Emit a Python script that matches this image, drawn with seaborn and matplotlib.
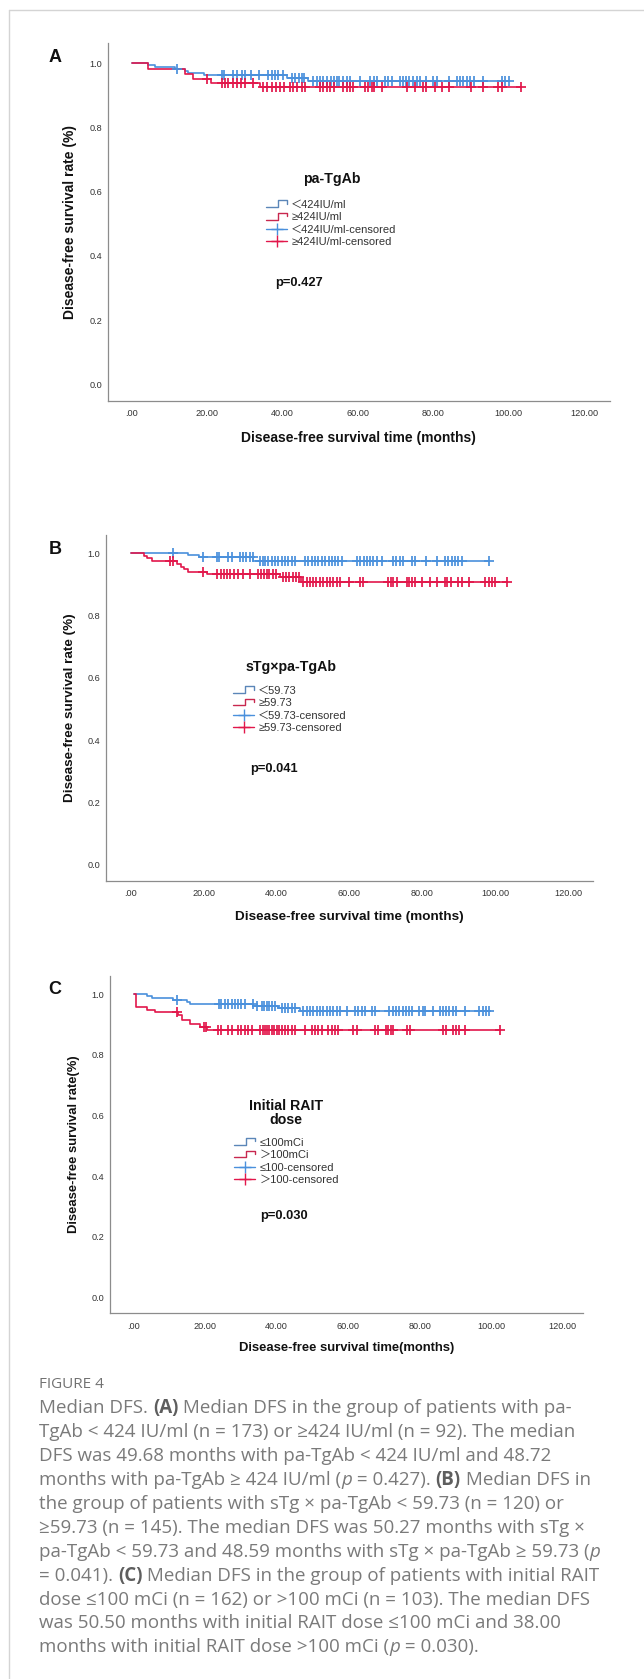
import numpy as np
import matplotlib
matplotlib.use("Agg")
import matplotlib.pyplot as plt
import seaborn as sns
from matplotlib.lines import Line2D
from matplotlib.legend_handler import HandlerBase

# ---- data (months / survival proportion) ----
a_blue_times = [4.3, 6.1, 11.4, 14.1, 14.9, 19.1, 41.1, 46.8]
a_blue_surv = [0.994, 0.988, 0.982, 0.976, 0.970, 0.964, 0.953, 0.944]
a_blue_cens = [12.0, 23.8, 24.4, 26.9, 27.8, 29.1, 30.0, 31.5, 33.8, 36.2, 37.1, 38.0, 38.8, 40.0,
               42.4, 43.3, 44.4, 45.0, 45.7, 48.1, 49.0, 49.9, 50.8, 51.7, 52.7, 53.5, 54.3, 55.0,
               56.1, 57.0, 57.9, 60.4, 63.2, 64.3, 65.1, 67.3, 68.0, 68.9, 71.1, 72.0, 72.7, 73.6,
               74.5, 75.6, 76.5, 78.1, 80.0, 81.1, 84.2, 86.2, 87.1, 88.0, 88.9, 89.8, 90.8, 93.1,
               98.2, 99.0, 100.0]
a_red_times = [4.3, 14.1, 16.1, 21.1, 33.9]
a_red_surv = [0.981, 0.966, 0.950, 0.940, 0.925]
a_red_cens = [19.8, 24.0, 24.7, 25.6, 26.7, 27.8, 29.0, 30.0, 32.0, 34.9, 35.9, 37.1, 38.2, 39.3,
              40.3, 41.9, 42.8, 43.9, 45.0, 45.9, 49.9, 50.8, 51.7, 52.6, 53.5, 56.1, 57.0, 57.9,
              58.6, 61.9, 62.7, 63.6, 64.2, 66.3, 72.9, 75.1, 77.3, 78.0, 80.4, 82.2, 84.2, 90.1,
              93.1, 97.2, 98.1, 103.2]

b_blue_times = [15.8, 18.9, 33.7]
b_blue_surv = [0.995, 0.987, 0.976]
b_blue_cens = [11.7, 19.8, 23.8, 24.3, 26.8, 27.7, 30.0, 30.7, 31.7, 32.8, 33.5, 35.5, 36.2, 36.9,
               37.8, 38.7, 39.6, 40.5, 41.4, 42.3, 43.3, 44.2, 45.1, 47.9, 48.8, 49.7, 50.6, 51.5,
               52.4, 53.3, 54.3, 55.2, 56.1, 57.0, 57.9, 62.0, 63.0, 63.9, 64.8, 65.7, 66.6, 67.5,
               69.1, 71.9, 72.8, 73.9, 74.8, 77.1, 78.0, 81.0, 84.0, 86.3, 87.2, 88.1, 89.0, 89.9,
               90.8, 98.2]
b_red_times = [3.8, 4.6, 5.8, 12.6, 13.7, 14.6, 15.8, 20.9, 41.0, 46.7]
b_red_surv = [0.992, 0.984, 0.975, 0.966, 0.957, 0.949, 0.940, 0.935, 0.925, 0.909]
b_red_cens = [10.8, 11.5, 19.8, 23.8, 24.7, 25.6, 26.5, 27.4, 28.4, 29.6, 30.7, 32.8, 35.0, 35.7,
              36.6, 37.3, 38.0, 39.0, 39.8, 41.7, 42.6, 43.5, 44.5, 45.4, 46.3, 47.4, 48.3, 49.2,
              50.1, 51.0, 51.9, 52.9, 53.8, 54.7, 55.6, 56.5, 57.4, 60.0, 62.9, 63.8, 70.7, 71.4,
              72.1, 73.2, 75.9, 76.5, 77.1, 78.0, 79.9, 82.2, 84.0, 86.3, 86.9, 87.8, 89.9, 90.8,
              92.9, 97.2, 98.2, 99.1, 100.0, 103.2]

c_blue_times = [3.7, 5.1, 11.1, 15.0, 15.8, 33.5, 40.5, 46.6]
c_blue_surv = [0.993, 0.987, 0.982, 0.976, 0.969, 0.963, 0.954, 0.945]
c_blue_cens = [12.1, 24.0, 24.6, 25.6, 26.5, 27.5, 28.4, 29.3, 30.2, 31.2, 33.3, 34.4, 35.8, 36.5,
               37.2, 38.0, 38.6, 39.6, 41.4, 42.4, 43.3, 44.2, 45.2, 47.5, 48.4, 49.4, 50.3, 51.2,
               52.2, 53.1, 54.0, 55.0, 55.9, 56.8, 57.7, 59.6, 61.9, 62.9, 63.8, 64.8, 66.6, 67.5,
               71.5, 72.5, 73.4, 74.3, 75.3, 76.2, 77.1, 77.8, 79.9, 80.9, 81.5, 83.7, 85.7, 86.5,
               87.4, 88.3, 89.3, 90.2, 92.7, 96.7, 97.6, 98.6, 99.5]
c_red_times = [0.8, 3.9, 6.0, 12.5, 13.5, 15.8, 18.6, 20.6]
c_red_surv = [0.958, 0.949, 0.941, 0.932, 0.916, 0.903, 0.892, 0.881]
c_red_cens = [12.1, 19.7, 20.3, 23.7, 24.6, 26.5, 27.5, 29.3, 30.2, 31.2, 32.1, 33.0, 35.4, 36.1,
              36.8, 37.4, 38.0, 38.6, 39.3, 40.0, 40.8, 41.4, 42.4, 43.3, 44.2, 45.2, 47.9, 49.8,
              50.7, 51.7, 52.6, 54.5, 55.4, 56.3, 57.2, 61.3, 62.6, 67.5, 68.5, 70.6, 71.3, 71.9,
              72.7, 76.4, 77.3, 86.5, 87.4, 89.4, 90.2, 90.9, 92.7, 102.5]

a_labels = ["\uff1c424IU/ml", "\u2265424IU/ml", "\uff1c424IU/ml-censored", "\u2265424IU/ml-censored"]
b_labels = ["\uff1c59.73", "\u226559.73", "\uff1c59.73-censored", "\u226559.73-censored"]
c_labels = ["\u2264100mCi", "\uff1e100mCi", "\u2264100-censored", "\uff1e100-censored"]

x_ticks = [0, 20, 40, 60, 80, 100, 120]
x_ticklabels = [".00", "20.00", "40.00", "60.00", "80.00", "100.00", "120.00"]
y_ticks = [0.0, 0.2, 0.4, 0.6, 0.8, 1.0]

caption_lines = [
    [("Median DFS. ", "n"), ("(A)", "b"), (" Median DFS in the group of patients with pa-", "n")],
    [("TgAb < 424 IU/ml (n = 173) or \u2265424 IU/ml (n = 92). The median", "n")],
    [("DFS was 49.68 months with pa-TgAb < 424 IU/ml and 48.72", "n")],
    [("months with pa-TgAb \u2265 424 IU/ml (", "n"), ("p", "i"), (" = 0.427). ", "n"), ("(B)", "b"),
     (" Median DFS in", "n")],
    [("the group of patients with sTg \u00d7 pa-TgAb < 59.73 (n = 120) or", "n")],
    [("\u226559.73 (n = 145). The median DFS was 50.27 months with sTg \u00d7", "n")],
    [("pa-TgAb < 59.73 and 48.59 months with sTg \u00d7 pa-TgAb \u2265 59.73 (", "n"), ("p", "i")],
    [("= 0.041). ", "n"), ("(C)", "b"), (" Median DFS in the group of patients with initial RAIT", "n")],
    [("dose \u2264100 mCi (n = 162) or >100 mCi (n = 103). The median DFS", "n")],
    [("was 50.50 months with initial RAIT dose \u2264100 mCi and 38.00", "n")],
    [("months with initial RAIT dose >100 mCi (", "n"), ("p", "i"), (" = 0.030).", "n")],
]

BLUE = "#4a90dc"
RED = "#e2174b"
BLUE_LEG = "#5b86b8"
RED_LEG = "#c8284f"

W, H = 644, 1679
sns.set_style("white")
plt.rcParams["font.family"] = ["Liberation Sans", "Noto Sans CJK SC", "DejaVu Sans"]

fig = plt.figure(figsize=(W / 100, H / 100), dpi=100)


class StepHandler(HandlerBase):
    def create_artists(self, legend, orig_handle, xdescent, ydescent, width, height, fontsize, trans):
        xs = np.array([0.0, 0.55, 0.55, 1.0, 1.0]) * width - xdescent
        ys = np.array([0.1, 0.1, 0.95, 0.95, 0.55]) * height - ydescent
        ln = Line2D(xs, ys, color=orig_handle.get_color(), lw=1.0, transform=trans)
        return [ln]


def step_level(times, surv, t):
    levels = np.r_[1.0, surv]
    return levels[np.searchsorted(times, t, side="right")]


def draw_curve(ax, times, surv, cens, color):
    end = max(max(cens), max(times))
    xs = np.r_[0.0, times, end]
    ys = np.r_[1.0, surv, surv[-1]]
    sns.lineplot(x=xs, y=ys, drawstyle="steps-post", estimator=None, sort=False,
                 color=color, lw=1.2, ax=ax)
    cy = step_level(np.array(times), np.array(surv), np.array(cens))
    sns.scatterplot(x=cens, y=cy, marker="+", s=58, color=color, linewidth=1.25, ax=ax, zorder=3)


panels = [
    dict(letter="A", box=(107.6, 43, 610, 401), x0=132, x120=584, y1=63.3, y0=384.3,
         curves=[(a_blue_times, a_blue_surv, a_blue_cens), (a_red_times, a_red_surv, a_red_cens)],
         labels=a_labels, title="pa-TgAb", title_xy=(332, 179), leg_xy=(331.5, 223.5),
         p="p=0.427", p_xy=(299, 283), ylabel="Disease-free survival rate (%)",
         xlabel="Disease-free survival time (months)", ylab_x=70, xlab_y=438, lab_fs=10.0),
    dict(letter="B", box=(106, 535, 592.6, 881), x0=130.6, x120=568, y1=553.3, y0=865,
         curves=[(b_blue_times, b_blue_surv, b_blue_cens), (b_red_times, b_red_surv, b_red_cens)],
         labels=b_labels, title="sTg\u00d7pa-TgAb", title_xy=(291, 667), leg_xy=(290, 709.5),
         p="p=0.041", p_xy=(274, 769), ylabel="Disease-free survival rate (%)",
         xlabel="Disease-free survival time (months)", ylab_x=70, xlab_y=917, lab_fs=9.7),
    dict(letter="C", box=(109.6, 976, 583, 1313.3), x0=133.5, x120=562.6, y1=994.3, y0=1297.3,
         curves=[(c_blue_times, c_blue_surv, c_blue_cens), (c_red_times, c_red_surv, c_red_cens)],
         labels=c_labels, title="Initial RAIT\ndose", title_xy=(286, 1113.3), leg_xy=(286.5, 1161.4),
         p="p=0.030", p_xy=(284, 1215.7), ylabel="Disease-free survival rate(%)",
         xlabel="Disease-free survival time(months)", ylab_x=74, xlab_y=1348.3, lab_fs=9.4),
]

for pn in panels:
    l, t, r, b = pn["box"]
    ax = fig.add_axes([l / W, 1 - b / H, (r - l) / W, (b - t) / H])
    xs_per = (pn["x120"] - pn["x0"]) / 120.0
    ys_per = pn["y0"] - pn["y1"]
    ax.set_xlim((l - pn["x0"]) / xs_per, (r - pn["x0"]) / xs_per)
    ax.set_ylim(-(b - pn["y0"]) / ys_per, 1 + (pn["y1"] - t) / ys_per)

    def to_ax(px, py):
        return (px - l) / (r - l), (b - py) / (b - t)

    for (times, surv, cens), col in zip(pn["curves"], [BLUE, RED]):
        draw_curve(ax, times, surv, cens, col)

    ax.set_xticks(x_ticks)
    ax.set_xticklabels(x_ticklabels)
    ax.set_yticks(y_ticks)
    ax.set_yticklabels([f"{v:.1f}" for v in y_ticks])
    ax.tick_params(length=0, labelsize=6.6, colors="#333333")
    ax.tick_params(axis="x", pad=6)
    ax.tick_params(axis="y", pad=4)
    for s in ["top", "right"]:
        ax.spines[s].set_visible(False)
    for s in ["left", "bottom"]:
        ax.spines[s].set_color("#8c8c8c")
        ax.spines[s].set_linewidth(0.9)
    ax.grid(False)

    ax.set_ylabel(pn["ylabel"], fontsize=pn["lab_fs"], fontweight="bold", color="#111111")
    ax.set_xlabel(pn["xlabel"], fontsize=pn["lab_fs"], fontweight="bold", color="#111111")
    ax.yaxis.set_label_coords(to_ax(pn["ylab_x"], 0)[0], 0.5)
    ax.yaxis.label.set_va("center")
    ax.xaxis.set_label_coords(0.5, to_ax(0, pn["xlab_y"])[1])
    ax.xaxis.label.set_va("center")

    handles = [Line2D([], [], color=BLUE_LEG), Line2D([], [], color=RED_LEG),
               Line2D([], [], color=BLUE, marker="+", markersize=9, lw=1.0),
               Line2D([], [], color=RED, marker="+", markersize=9, lw=1.0)]
    step_h = StepHandler()
    leg = ax.legend(handles, pn["labels"], loc="center", bbox_to_anchor=to_ax(*pn["leg_xy"]),
                    frameon=False, fontsize=8.0, handlelength=1.9, handletextpad=0.35,
                    labelspacing=0.22, borderpad=0, borderaxespad=0,
                    handler_map={handles[0]: step_h, handles[1]: step_h})
    for txt in leg.get_texts():
        txt.set_color("#333333")
    ax.text(*to_ax(*pn["title_xy"]), pn["title"], transform=ax.transAxes, ha="center", va="center",
            fontsize=10.2, fontweight="bold", color="#111111", linespacing=1.0)
    ax.text(*to_ax(*pn["p_xy"]), pn["p"], transform=ax.transAxes, ha="center", va="center",
            fontsize=9.3, fontweight="bold", color="#111111")
    fig.text(55 / W, 1 - (t + 14) / H, pn["letter"], ha="center", va="center", fontsize=13,
             fontweight="bold", color="#111111")

# thin frame at left and top
fig.add_artist(Line2D([9 / W, 9 / W], [0, 1 - 9.5 / H], color="#d4d4d4", lw=1.0, transform=fig.transFigure))
fig.add_artist(Line2D([9 / W, 1], [1 - 9.5 / H, 1 - 9.5 / H], color="#d4d4d4", lw=1.0, transform=fig.transFigure))

# caption
fig.text(39 / W, 1 - 1385 / H, "FIGURE 4", ha="left", va="center", fontsize=11,
         family=["Open Sans", "DejaVu Sans"], color="#727272")
renderer = fig.canvas.get_renderer()
styles = {"n": dict(fontweight="normal", style="normal", color="#7a7a7a"),
          "b": dict(fontweight="bold", style="normal", color="#5e5e5e"),
          "i": dict(fontweight="normal", style="italic", color="#7a7a7a")}
for i, segs in enumerate(caption_lines):
    y = 1 - (1408.3 + i * 23.9) / H
    x_px = 39.0
    for txt, st in segs:
        tt = fig.text(x_px / W, y, txt, ha="left", va="center", fontsize=13.5,
                      family=["Open Sans", "DejaVu Sans"], **styles[st])
        bb = tt.get_window_extent(renderer)
        x_px = bb.x1

fig.savefig("out.png", dpi=100)
